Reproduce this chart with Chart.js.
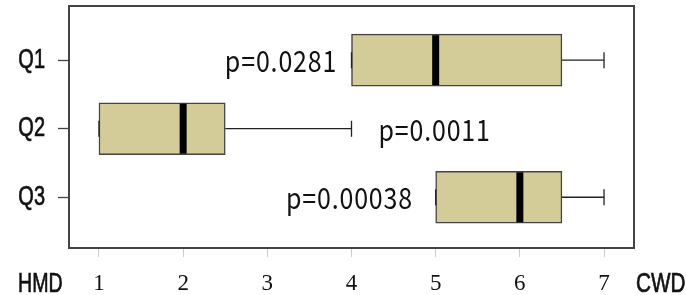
<!DOCTYPE html>
<html>
<head>
<meta charset="utf-8">
<script src="https://cdn.jsdelivr.net/npm/chart.js@4/dist/chart.umd.min.js"></script>
<style>
  html, body { margin: 0; padding: 0; background: #fff; }
  #wrap { width: 686px; height: 295px; }
</style>
</head>
<body>
<div id="wrap"><canvas id="chart"></canvas></div>
<script>
// box plot values per group (HMD ... CWD scale)
const categories = ['Q1', 'Q2', 'Q3'];
const whiskerLow = [4, 1, 5];
const boxLow = [4, 1, 5];
const medians = [5, 2, 6];
const boxHigh = [6.5, 2.5, 6.5];
const whiskerHigh = [7, 4, 7];
const pLabels = ['p=0.0281', 'p=0.0011', 'p=0.00038'];
const xTicks = [1, 2, 3, 4, 5, 6, 7];

// where each p label sits: anchor value on x and which side of it the text goes
const pAnchor = [
  { x: 3.83, align: 'right' },
  { x: 4.32, align: 'left' },
  { x: 4.73, align: 'right' },
];

// narrow sans text, squeezed horizontally, a little heavier than regular
function narrowText(ctx, text, x, y, size, squeeze, align) {
  ctx.save();
  ctx.font = size + 'px "Liberation Sans", Arial, sans-serif';
  ctx.textBaseline = 'middle';
  ctx.textAlign = align;
  ctx.translate(x, y);
  ctx.scale(squeeze, 1);
  ctx.fillText(text, 0, 0);
  ctx.strokeStyle = ctx.fillStyle;
  ctx.lineWidth = 0.7;
  ctx.strokeText(text, 0, 0);
  ctx.restore();
}

const boxExtras = {
  id: 'boxExtras',
  afterDatasetsDraw(chart) {
    const { ctx, chartArea: a } = chart;
    const xs = chart.scales.x;
    const ys = chart.scales.y;
    ctx.save();
    categories.forEach((c, i) => {
      const y = ys.getPixelForValue(i + 1);
      const lo = xs.getPixelForValue(whiskerLow[i]);
      const hi = xs.getPixelForValue(whiskerHigh[i]);
      const b0 = xs.getPixelForValue(boxLow[i]);
      const b1 = xs.getPixelForValue(boxHigh[i]);
      ctx.strokeStyle = '#222';
      ctx.lineWidth = 1.3;
      ctx.beginPath();
      ctx.moveTo(lo, y); ctx.lineTo(b0, y);
      ctx.moveTo(b1, y); ctx.lineTo(hi, y);
      ctx.moveTo(lo, y - 8); ctx.lineTo(lo, y + 8);
      ctx.moveTo(hi, y - 8); ctx.lineTo(hi, y + 8);
      ctx.stroke();

      const m = xs.getPixelForValue(medians[i]);
      ctx.strokeStyle = '#000';
      ctx.lineWidth = 7;
      ctx.beginPath();
      ctx.moveTo(m, y - 25); ctx.lineTo(m, y + 25);
      ctx.stroke();

      ctx.fillStyle = '#111';
      narrowText(ctx, c, a.left - 24, y, 27, 0.74, 'right');

      ctx.save();
      ctx.font = '29px "Noto Sans CJK JP", "Noto Sans", sans-serif';
      ctx.letterSpacing = '1px';
      ctx.textAlign = pAnchor[i].align;
      ctx.textBaseline = 'middle';
      ctx.translate(xs.getPixelForValue(pAnchor[i].x), y + 1);
      ctx.scale(0.86, 1);
      ctx.fillText(pLabels[i], 0, 0);
      ctx.restore();
    });

    // frame
    ctx.strokeStyle = '#444';
    ctx.lineWidth = 2;
    ctx.strokeRect(a.left, a.top, a.right - a.left, a.bottom - a.top);

    // axis end labels
    ctx.fillStyle = '#111';
    narrowText(ctx, 'HMD', 18, 284, 28, 0.7, 'left');
    narrowText(ctx, 'CWD', a.right + 2, 284, 28, 0.74, 'left');
    ctx.restore();
  }
};

new Chart(document.getElementById('chart'), {
  type: 'bar',
  data: {
    datasets: [{
      data: categories.map((c, i) => ({ x: [boxLow[i], boxHigh[i]], y: i + 1 })),
      backgroundColor: '#d4cc98',
      borderColor: '#444',
      borderWidth: 1.5,
      borderSkipped: false,
      barThickness: 52,
    }]
  },
  options: {
    indexAxis: 'y',
    responsive: true,
    maintainAspectRatio: false,
    animation: false,
    layout: { padding: { top: 6, right: 52, left: 0, bottom: 0 } },
    plugins: { legend: { display: false }, tooltip: { enabled: false } },
    scales: {
      x: {
        type: 'linear',
        min: 0.644,
        max: 7.356,
        afterBuildTicks: (s) => { s.ticks = xTicks.map((v) => ({ value: v })); },
        afterFit: (s) => { s.height = 47; },
        border: { display: false },
        grid: { drawOnChartArea: false, tickLength: 9, color: '#ccc', tickWidth: 1 },
        ticks: {
          color: '#111',
          padding: 13,
          font: { family: '"Liberation Serif", "DejaVu Serif", serif', size: 23 },
        },
      },
      y: {
        type: 'linear',
        reverse: true,
        offset: false,
        min: 0.21,
        max: 3.74,
        afterBuildTicks: (s) => { s.ticks = categories.map((c, i) => ({ value: i + 1 })); },
        afterFit: (s) => { s.width = 69; },
        border: { display: false },
        grid: { offset: false, drawOnChartArea: false, tickLength: 11, color: '#444', tickWidth: 1.3 },
        ticks: { display: false },
      },
    },
  },
  plugins: [boxExtras],
});
</script>
</body>
</html>
